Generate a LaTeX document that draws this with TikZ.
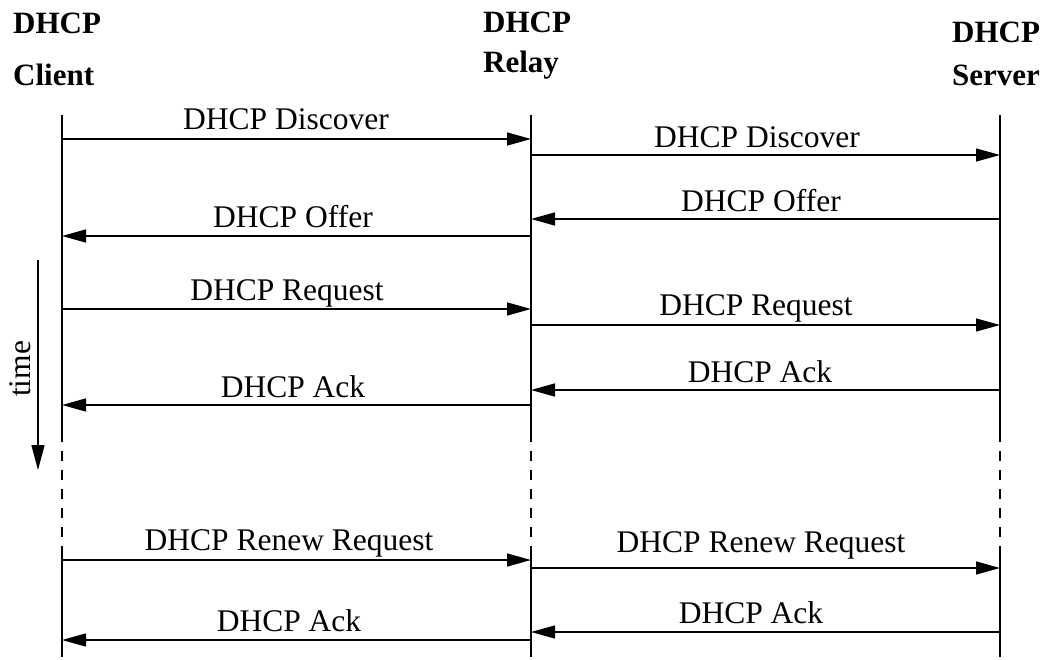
\documentclass[tikz,border=0pt]{standalone}
\usepackage{fontspec}
\setmainfont{Liberation Serif}
\usetikzlibrary{arrows.meta}
\begin{document}
\begin{tikzpicture}[x=1pt,y=-1pt,
  msg/.style={line width=1.4pt,-{Triangle[length=24pt,width=13pt]}},
  life/.style={line width=1.4pt},
  lifedash/.style={line width=1.4pt,dash pattern=on 10pt off 9pt},
  lbl/.style={font=\fontsize{31.5}{35}\selectfont,inner sep=0pt,anchor=base},
  hdr/.style={font=\fontsize{31}{35}\selectfont\bfseries,inner sep=0pt,anchor=base west}]
\useasboundingbox (0,0) rectangle (1049,660);
% headers
\node[hdr] (h1a) at (13,34) {DHCP};
\node[hdr] (h1b) at (13,86) {Client};
\node[hdr] (h2a) at (483,33) {DHCP};
\node[hdr] (h2b) at (483,73) {Relay};
\node[hdr] (h3a) at (952,43) {DHCP};
\node[hdr] (h3b) at (952,86) {Server};
% lifelines
\foreach \n/\x in {c/62,r/531,s/1000}{
  \coordinate (\n top) at (\x,115);
  \coordinate (\n d1) at (\x,432);
  \coordinate (\n d2) at (\x,551);
  \coordinate (\n bot) at (\x,657);
  \draw[life] (\n top) -- (\n d1);
  \draw[lifedash] (\n d1) -- (\n d2);
  \draw[life] (\n d2) -- (\n bot);
}
% messages
\foreach \i/\a/\b/\y/\lx/\ly/\t in {
  1/62/531/139/286/130/{DHCP Discover},
  2/531/1000/155/757/148/{DHCP Discover},
  3/1000/531/219/761/212/{DHCP Offer},
  4/531/62/236/293/228/{DHCP Offer},
  5/62/531/309/287/300/{DHCP Request},
  6/531/1000/325/756/316/{DHCP Request},
  7/1000/531/390/760/382/{DHCP Ack},
  8/531/62/405/293/397/{DHCP Ack},
  9/62/531/560/289/550/{DHCP Renew Request},
  10/531/1000/568/761/552/{DHCP Renew Request},
  11/1000/531/632/751/623/{DHCP Ack},
  12/531/62/640/289/631/{DHCP Ack}}{
  \coordinate (m\i s) at (\a,\y);
  \coordinate (m\i e) at (\b,\y);
  \draw[msg] (m\i s) -- (m\i e);
  \node[lbl] (l\i) at (\lx,\ly) {\t};
}
% time arrow
\coordinate (t1) at (38,260);
\coordinate (t2) at (38,470);
\draw[line width=1.4pt,-{Triangle[length=25pt,width=13pt]}] (t1) -- (t2);
\node[font=\fontsize{31.5}{35}\selectfont,inner sep=0pt,rotate=90] (tl) at (20,369) {time};
\end{tikzpicture}
\end{document}
